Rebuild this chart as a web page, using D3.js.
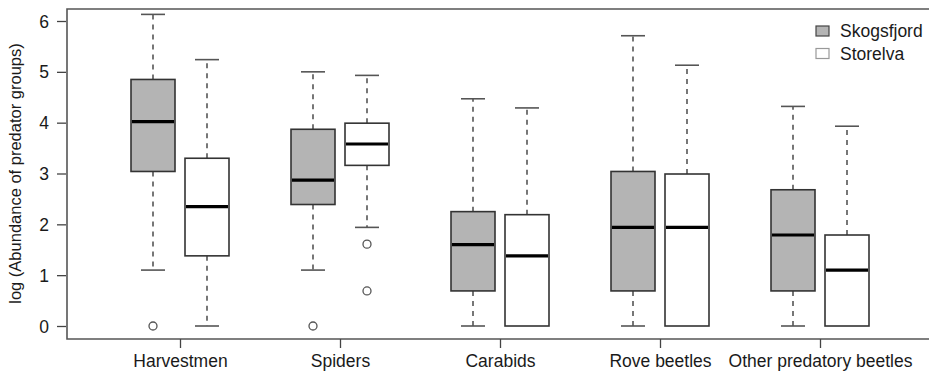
<!DOCTYPE html>
<html>
<head>
<meta charset="utf-8">
<script src="https://cdn.jsdelivr.net/npm/d3@7"></script>
<style>
  body { margin: 0; background: #fff; }
  svg { display: block; font-family: "Liberation Sans", Arial, sans-serif; }
</style>
</head>
<body>
<div id="chart-holder"></div>
<script>
// categories and groups
var categories = ["Harvestmen", "Spiders", "Carabids", "Rove beetles", "Other predatory beetles"];
var sites = ["Skogsfjord", "Storelva"];
var siteFill = ["#b4b4b4", "#ffffff"];
var yTicks = [0, 1, 2, 3, 4, 5, 6];

// box stats per category: [lower whisker, Q1, median, Q3, upper whisker]
var skogsfjordStats = [
  [1.1, 3.04, 4.02, 4.85, 6.13],
  [1.1, 2.39, 2.87, 3.87, 5.0],
  [0, 0.69, 1.6, 2.25, 4.47],
  [0, 0.69, 1.94, 3.04, 5.71],
  [0, 0.69, 1.79, 2.68, 4.32]
];
var storelvaStats = [
  [0, 1.38, 2.35, 3.3, 5.24],
  [1.94, 3.16, 3.58, 3.99, 4.93],
  [0, 0, 1.38, 2.19, 4.29],
  [0, 0, 1.94, 2.99, 5.13],
  [0, 0, 1.1, 1.79, 3.93]
];
// outliers per category
var skogsfjordOutliers = [[0], [0], [], [], []];
var storelvaOutliers = [[], [1.61, 0.69], [], [], []];

var W = 929, H = 374;
var margin = { top: 9, right: 0, bottom: 35, left: 67 };

var svg = d3.select("#chart-holder").append("svg")
  .attr("width", W)
  .attr("height", H);

// x: category centers at 180 + 160*i
var x = d3.scalePoint().domain(categories).range([180, 820]);
var y = d3.scaleLinear().domain([0, 6]).range([326, 21]);

var offset = 27, boxW = 44, capW = 24;
var textCol = "#1a1a1a";

// frame (left, top, bottom; right edge runs off the picture)
var frame = svg.append("g").attr("stroke", "#555").attr("stroke-width", 1.6).attr("fill", "none");
frame.append("path")
  .attr("d", "M" + (W + 2) + "," + margin.top + "H" + margin.left + "V" + (H - margin.bottom) + "H" + (W + 2));

// y axis
var yAxis = svg.append("g")
  .attr("transform", "translate(" + (margin.left - 10) + ",0)")
  .call(d3.axisLeft(y).tickValues(yTicks).tickSize(0).tickPadding(0).tickFormat(d3.format("d")));
yAxis.select(".domain").remove();
yAxis.selectAll(".tick line").attr("x1", 0).attr("x2", 9).attr("stroke", "#444").attr("stroke-width", 1.3);
yAxis.selectAll(".tick text").attr("x", -8).attr("font-size", 17.5).attr("fill", textCol)
  .attr("font-family", "Liberation Sans, Arial, sans-serif").attr("dy", "0.35em");

// x axis
var xAxis = svg.append("g")
  .attr("transform", "translate(0," + (H - margin.bottom) + ")")
  .call(d3.axisBottom(x).tickSize(9).tickPadding(7));
xAxis.select(".domain").remove();
xAxis.selectAll(".tick line").attr("stroke", "#444").attr("stroke-width", 1.3);
xAxis.selectAll(".tick text").attr("font-size", 17.5).attr("fill", textCol)
  .attr("font-family", "Liberation Sans, Arial, sans-serif");

// y label
svg.append("text")
  .attr("transform", "translate(21," + y(3) + ") rotate(-90)")
  .attr("text-anchor", "middle")
  .attr("font-size", 16.5)
  .attr("fill", textCol)
  .text("log (Abundance of predator groups)");

function drawBoxes(stats, outliers, si) {
  var g = svg.append("g");
  stats.forEach(function (s, i) {
    var cx = x(categories[i]) + (si === 0 ? -offset : offset);
    var whisk = g.append("g").attr("stroke", "#555").attr("stroke-width", 1.6);
    if (s[4] > s[3]) {
      whisk.append("line").attr("x1", cx).attr("x2", cx).attr("y1", y(s[3])).attr("y2", y(s[4]))
        .attr("stroke-dasharray", "5,5");
      whisk.append("line").attr("x1", cx - capW / 2).attr("x2", cx + capW / 2).attr("y1", y(s[4])).attr("y2", y(s[4]));
    }
    if (s[1] > s[0]) {
      whisk.append("line").attr("x1", cx).attr("x2", cx).attr("y1", y(s[1])).attr("y2", y(s[0]))
        .attr("stroke-dasharray", "5,5");
      whisk.append("line").attr("x1", cx - capW / 2).attr("x2", cx + capW / 2).attr("y1", y(s[0])).attr("y2", y(s[0]));
    }
    g.append("rect")
      .attr("x", cx - boxW / 2).attr("width", boxW)
      .attr("y", y(s[3])).attr("height", y(s[1]) - y(s[3]))
      .attr("fill", siteFill[si]).attr("stroke", "#333").attr("stroke-width", 1.6);
    g.append("line")
      .attr("x1", cx - boxW / 2 + 1).attr("x2", cx + boxW / 2 - 1)
      .attr("y1", y(s[2])).attr("y2", y(s[2]))
      .attr("stroke", "#000").attr("stroke-width", 3.2);
    outliers[i].forEach(function (v) {
      g.append("circle").attr("cx", cx).attr("cy", y(v)).attr("r", 4)
        .attr("fill", "#fff").attr("stroke", "#555").attr("stroke-width", 1.3);
    });
  });
}
drawBoxes(skogsfjordStats, skogsfjordOutliers, 0);
drawBoxes(storelvaStats, storelvaOutliers, 1);

// legend
var legend = svg.append("g").attr("transform", "translate(816,26)");
sites.forEach(function (name, i) {
  var row = legend.append("g").attr("transform", "translate(0," + (i * 22.5) + ")");
  row.append("rect").attr("width", 13).attr("height", 10)
    .attr("fill", siteFill[i]).attr("stroke", i === 0 ? "#444" : "#999").attr("stroke-width", 1.2);
  row.append("text").attr("x", 24).attr("y", 11).attr("font-size", 17.5).attr("fill", textCol).text(name);
});
</script>
</body>
</html>
